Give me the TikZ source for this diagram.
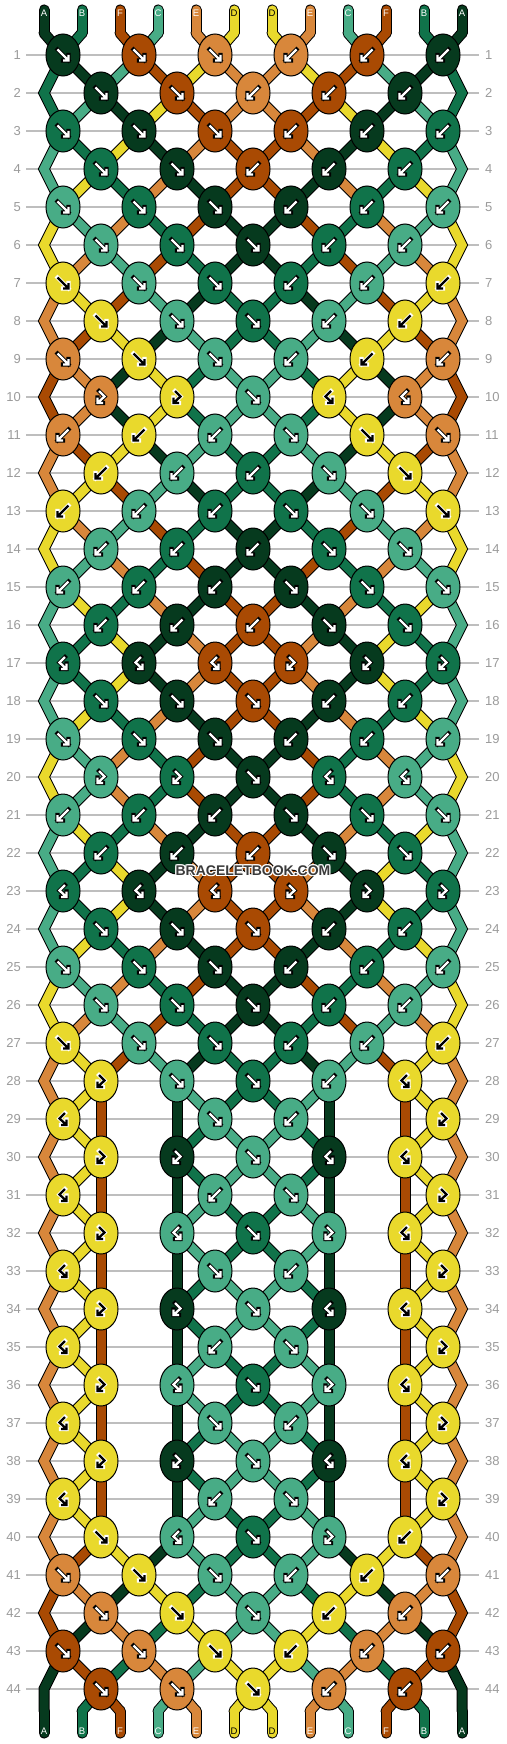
\documentclass[tikz,border=0pt]{standalone}
\usepackage{fontspec}
\setmainfont{Liberation Sans}
\usepackage{tikz}
\usetikzlibrary{shapes.geometric}

\definecolor{strA}{HTML}{063A1E}
\definecolor{strB}{HTML}{10734A}
\definecolor{strF}{HTML}{A94A03}
\definecolor{strC}{HTML}{48AC86}
\definecolor{strE}{HTML}{D8873B}
\definecolor{strD}{HTML}{E9D92C}
\colorlet{arrA}{white}\colorlet{arrB}{white}\colorlet{arrF}{white}
\colorlet{arrC}{white}\colorlet{arrE}{white}\colorlet{arrD}{black}
\colorlet{outA}{black}\colorlet{outB}{black}\colorlet{outF}{black}
\colorlet{outC}{black}\colorlet{outE}{black}\colorlet{outD}{white}
\definecolor{gridgray}{HTML}{BEBEBE}
\definecolor{numgray}{HTML}{9B9B9B}
\definecolor{logogray}{HTML}{3A3A3A}

\tikzstyle{knot} = [ellipse, draw=black, line width=1pt, minimum width=34pt, minimum height=42pt, inner sep=0pt, outer sep=0pt]
\tikzstyle{rowline} = [draw=gridgray, line width=1.3pt]
\tikzstyle{rownum} = [text=numgray, font=\fontsize{13}{13}\selectfont, inner sep=0pt]
\tikzstyle{strlabel} = [font=\fontsize{9.5}{9.5}\selectfont, inner sep=0pt]
\tikzstyle{logo} = [font=\fontsize{14}{14}\selectfont\bfseries, inner sep=0pt]

\tikzset{
  pics/arrowf/.style={code={\draw (-5.5,-5.5) -- (5.5,5.5) (5.5,0) -- (5.5,5.5) -- (0,5.5);}},
  pics/arrowb/.style={code={\draw (5.5,-5.5) -- (-5.5,5.5) (-5.5,0) -- (-5.5,5.5) -- (0,5.5);}},
  pics/arrowfb/.style={code={\draw (-2,-6) -- (3.5,-0.5) -- (-3,5.5) (-3.5,0.5) -- (-3.5,6) -- (2,6);}},
  pics/arrowbf/.style={code={\draw (2,-6) -- (-3.5,-0.5) -- (3,5.5) (3.5,0.5) -- (3.5,6) -- (-2,6);}}
}

% x of string p at row r (0 = top, 45 = bottom), y of row r
\pgfmathdeclarefunction{locx}{2}{%
  \pgfmathparse{(#2==0 || #2==45) ? 6+38*#1 : ((mod(#2,2)==1 && !(#2>28 && #2<40 && (#1==3 || #1==4 || #1==9 || #1==10))) ? 76*ceil(#1/2)-13 : (#1==1 ? 44 : (#1==12 ? 462 : 25+76*floor(#1/2))))}%
}
\pgfmathdeclarefunction{locy}{1}{\pgfmathparse{#1==0 ? 33 : (#1==45 ? 1711 : 17+38*#1)}}

\def\nokn{n}
% row / strings after the row / knots (colour/type)
\def\knotdata{%
0/{A,B,F,C,E,D,D,E,C,F,B,A}/{-/n},%
1/{B,A,C,F,D,E,E,D,F,C,A,B}/{A/f,F/f,E/f,E/b,F/b,A/b},%
2/{B,C,A,D,F,E,E,F,D,A,C,B}/{A/f,F/f,E/b,F/b,A/b},%
3/{C,B,D,A,E,F,F,E,A,D,B,C}/{B/f,A/f,F/f,F/b,A/b,B/b},%
4/{C,D,B,E,A,F,F,A,E,B,D,C}/{B/f,A/f,F/b,A/b,B/b},%
5/{D,C,E,B,F,A,A,F,B,E,C,D}/{C/f,B/f,A/f,A/b,B/b,C/b},%
6/{D,E,C,F,B,A,A,B,F,C,E,D}/{C/f,B/f,A/f,B/b,C/b},%
7/{E,D,F,C,A,B,B,A,C,F,D,E}/{D/f,C/f,B/f,B/b,C/b,D/b},%
8/{E,F,D,A,C,B,B,C,A,D,F,E}/{D/f,C/f,B/f,C/b,D/b},%
9/{F,E,A,D,B,C,C,B,D,A,E,F}/{E/f,D/f,C/f,C/b,D/b,E/b},%
10/{F,E,A,D,B,C,C,B,D,A,E,F}/{E/fb,D/fb,C/f,D/bf,E/bf},%
11/{E,F,D,A,C,B,B,C,A,D,F,E}/{E/b,D/b,C/b,C/f,D/f,E/f},%
12/{E,D,F,C,A,B,B,A,C,F,D,E}/{D/b,C/b,B/b,C/f,D/f},%
13/{D,E,C,F,B,A,A,B,F,C,E,D}/{D/b,C/b,B/b,B/f,C/f,D/f},%
14/{D,C,E,B,F,A,A,F,B,E,C,D}/{C/b,B/b,A/b,B/f,C/f},%
15/{C,D,B,E,A,F,F,A,E,B,D,C}/{C/b,B/b,A/b,A/f,B/f,C/f},%
16/{C,B,D,A,E,F,F,E,A,D,B,C}/{B/b,A/b,F/b,A/f,B/f},%
17/{C,B,D,A,E,F,F,E,A,D,B,C}/{B/bf,A/bf,F/bf,F/fb,A/fb,B/fb},%
18/{C,D,B,E,A,F,F,A,E,B,D,C}/{B/f,A/f,F/f,A/b,B/b},%
19/{D,C,E,B,F,A,A,F,B,E,C,D}/{C/f,B/f,A/f,A/b,B/b,C/b},%
20/{D,C,E,B,F,A,A,F,B,E,C,D}/{C/fb,B/fb,A/f,B/bf,C/bf},%
21/{C,D,B,E,A,F,F,A,E,B,D,C}/{C/b,B/b,A/b,A/f,B/f,C/f},%
22/{C,B,D,A,E,F,F,E,A,D,B,C}/{B/b,A/b,F/b,A/f,B/f},%
23/{C,B,D,A,E,F,F,E,A,D,B,C}/{B/bf,A/bf,F/bf,F/fb,A/fb,B/fb},%
24/{C,D,B,E,A,F,F,A,E,B,D,C}/{B/f,A/f,F/f,A/b,B/b},%
25/{D,C,E,B,F,A,A,F,B,E,C,D}/{C/f,B/f,A/f,A/b,B/b,C/b},%
26/{D,E,C,F,B,A,A,B,F,C,E,D}/{C/f,B/f,A/f,B/b,C/b},%
27/{E,D,F,C,A,B,B,A,C,F,D,E}/{D/f,C/f,B/f,B/b,C/b,D/b},%
28/{E,D,F,A,C,B,B,C,A,F,D,E}/{D/fb,C/f,B/f,C/b,D/bf},%
29/{E,D,F,A,B,C,C,B,A,F,D,E}/{D/bf,-/n,C/f,C/b,-/n,D/fb},%
30/{E,D,F,A,B,C,C,B,A,F,D,E}/{D/fb,A/fb,C/f,A/bf,D/bf},%
31/{E,D,F,A,C,B,B,C,A,F,D,E}/{D/bf,-/n,C/b,C/f,-/n,D/fb},%
32/{E,D,F,A,C,B,B,C,A,F,D,E}/{D/fb,C/bf,B/f,C/fb,D/bf},%
33/{E,D,F,A,B,C,C,B,A,F,D,E}/{D/bf,-/n,C/f,C/b,-/n,D/fb},%
34/{E,D,F,A,B,C,C,B,A,F,D,E}/{D/fb,A/fb,C/f,A/bf,D/bf},%
35/{E,D,F,A,C,B,B,C,A,F,D,E}/{D/bf,-/n,C/b,C/f,-/n,D/fb},%
36/{E,D,F,A,C,B,B,C,A,F,D,E}/{D/fb,C/bf,B/f,C/fb,D/bf},%
37/{E,D,F,A,B,C,C,B,A,F,D,E}/{D/bf,-/n,C/f,C/b,-/n,D/fb},%
38/{E,D,F,A,B,C,C,B,A,F,D,E}/{D/fb,A/fb,C/f,A/bf,D/bf},%
39/{E,D,F,A,C,B,B,C,A,F,D,E}/{D/bf,-/n,C/b,C/f,-/n,D/fb},%
40/{E,F,D,A,C,B,B,C,A,D,F,E}/{D/f,C/bf,B/f,C/fb,D/b},%
41/{F,E,A,D,B,C,C,B,D,A,E,F}/{E/f,D/f,C/f,C/b,D/b,E/b},%
42/{F,A,E,B,D,C,C,D,B,E,A,F}/{E/f,D/f,C/f,D/b,E/b},%
43/{A,F,B,E,C,D,D,C,E,B,F,A}/{F/f,E/f,D/f,D/b,E/b,F/b},%
44/{A,B,F,C,E,D,D,E,C,F,B,A}/{F/f,E/f,D/f,E/b,F/b}%
}

\begin{document}
\begin{tikzpicture}[x=1pt,y=-1pt]
  \useasboundingbox (0,0) rectangle (506,1744);
  \fill[white] (0,0) rectangle (506,1744);

  \foreach \rw in {1,...,44}{
    \pgfmathsetmacro\ly{locy(\rw)}
    \draw[rowline] (26,\ly) -- (479,\ly);
    \node[rownum, anchor=east] (numl\rw) at (21,\ly) {\rw};
    \node[rownum, anchor=west] (numr\rw) at (485,\ly) {\rw};
  }

  % strings: black pass, then colour pass
  \foreach \pass/\lw in {1/11,2/9}{
    \foreach \rw/\st/\kn in \knotdata{
      \foreach \sc [count=\ps] in \st{
        \pgfmathtruncatemacro\skipit{(mod(\rw,2)==0 && \rw>0 && (\ps==1 || \ps==12)) ? 1 : 0}
        \ifnum\skipit=0
          \pgfmathtruncatemacro\isedge{(mod(\rw,2)==1 && (\ps==1 || \ps==12)) ? 1 : 0}
          \pgfmathtruncatemacro\rb{\rw+1}
          \pgfmathtruncatemacro\rc{\rw+1+\isedge}
          \pgfmathsetmacro\xa{locx(\ps,\rw)}
          \pgfmathsetmacro\ya{locy(\rw)}
          \pgfmathsetmacro\xb{locx(\ps,\rb)}
          \pgfmathsetmacro\yb{locy(\rb)}
          \pgfmathsetmacro\xc{locx(\ps,\rc)}
          \pgfmathsetmacro\yc{locy(\rc)}
          \pgfmathsetmacro\xe{6+38*\ps}
          \ifnum\pass=1 \def\col{black}\else \def\col{str\sc}\fi
          \ifnum\isedge=1
            \draw[line width=\lw pt, line cap=round, draw=\col] (\xa,\ya) -- (\xb,\yb) -- (\xc,\yc);
          \else
            \draw[line width=\lw pt, line cap=round, draw=\col] (\xa,\ya) -- (\xb,\yb);
          \fi
          \ifnum\rw=0 \draw[line width=\lw pt, line cap=round, draw=\col] (\xe,10) -- (\xa,\ya); \fi
          \ifnum\rc=45 \draw[line width=\lw pt, line cap=round, draw=\col] (\xc,\yc) -- (\xe,1733); \fi
        \fi
      }
    }
  }

  \foreach \sc [count=\ps] in {A,B,F,C,E,D,D,E,C,F,B,A}{
    \node[strlabel, text=arr\sc] (top\ps) at (6+38*\ps,13) {\sc};
    \node[strlabel, text=arr\sc] (bot\ps) at (6+38*\ps,1731) {\sc};
  }

  % knots
  \foreach \rw/\st/\kn in \knotdata{
    \foreach \kcol/\ktyp [count=\i] in \kn{
      \edef\kcmp{\ktyp}
      \ifx\kcmp\nokn\else
        \pgfmathsetmacro\kx{mod(\rw,2)==1 ? 63+76*(\i-1) : 101+76*(\i-1)}
        \pgfmathsetmacro\ky{locy(\rw)}
        \node[knot, fill=str\kcol] (k\rw-\i) at (\kx,\ky) {};
        \pic[color=out\kcol, line width=4.2pt, line cap=rect] at (k\rw-\i) {arrow\ktyp};
        \pic[color=arr\kcol, line width=2.3pt] at (k\rw-\i) {arrow\ktyp};
      \fi
    }
  }

  \foreach \hx/\hy [count=\h] in {254/871,252/871,253/872,253/870,254/872,252/870,254/870,252/872}
    \node[logo, text=white] (halo\h) at (\hx,\hy) {BRACELETBOOK.COM};
  \node[logo, text=logogray] (logo) at (253,871) {BRACELETBOOK.COM};
\end{tikzpicture}
\end{document}
